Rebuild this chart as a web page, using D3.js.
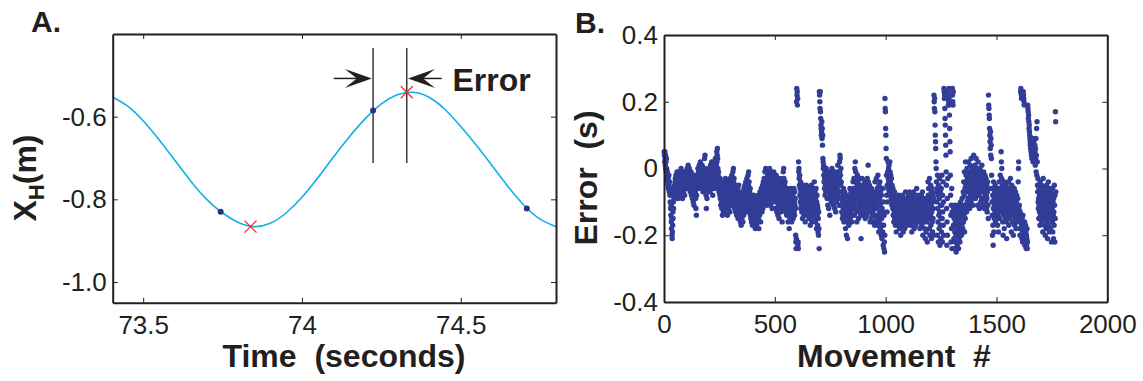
<!DOCTYPE html>
<html>
<head>
<meta charset="utf-8">
<script src="https://cdn.jsdelivr.net/npm/d3@7"></script>
<style>
  body { margin: 0; background: #fff; }
  svg { display: block; font-family: Arial, "Liberation Sans", Helvetica, sans-serif; }
</style>
</head>
<body>
<svg id="fig" width="1143" height="381"></svg>
<script>
// ---- Panel A: hand position trace
const curveTime = [73.40, 73.45, 73.50, 73.55, 73.60, 73.65, 73.70, 73.75, 73.80, 73.85,
  73.90, 73.95, 74.00, 74.05, 74.10, 74.15, 74.20, 74.25, 74.30, 74.35,
  74.40, 74.45, 74.50, 74.55, 74.60, 74.65, 74.70, 74.75, 74.80];
const curveXh = [-0.551, -0.574, -0.610, -0.656, -0.706, -0.756, -0.800, -0.833, -0.856, -0.866,
  -0.858, -0.833, -0.795, -0.748, -0.697, -0.648, -0.604, -0.569, -0.547, -0.541,
  -0.553, -0.582, -0.624, -0.670, -0.720, -0.770, -0.815, -0.848, -0.866];
const sampleTime = [73.744, 74.224, 74.708];   // blue dots
const sampleXh = [-0.830, -0.585, -0.822];
const extremaTime = [73.838, 74.330];           // red crosses
const extremaXh = [-0.866, -0.541];
const timeTicks = [73.5, 74, 74.5];
const xhTicks = [-0.6, -0.8, -1.0];

// ---- Panel B: timing error per movement, in hundredths of a second
const movementErrorCs = [
  5,4,2,5,3,1,4,0,2,-1,3,0,-2,-3,-1,-4,-2,-5,-3,-6,-4,-2,-5,-7,-4,
  -6,-8,-10,-7,-12,-14,-11,-16,-18,-15,-20,-21,-19,-17,-13,-15,-10,-12,-8,-9,-6,-7,-5,-8,-4,
  -3,-6,-4,-2,-7,-5,-3,-8,-1,-4, -6,-2,-9,-5,-3,-4,-7,-1,-6,-3, -5,-8,-2,-4,-6,-3,0,-5,-7,-4,
  -2,-6,-9,-3,-5,-1,-4,-7,-3,-6, -2,-5,-8,-4,-1,-3,-6,-4,-2,-5,
  -4,-1,-3,-6,0,-2,-5,-3,1,-4, -2,-6,-3,0,-5,-1,-4,-7,-2,-3, -5,-1,-4,-8,-2,-6,-3,-9,-4,-7,
  -5,-10,-3,-6,-11,-4,-8,-2,-6,-3, -7,-4,-9,-12,-6,-14,-8,-5,-3,-6,
  -2,-4,0,-3,-5,-1,-6,-2,1,-3, -4,0,-2,2,-5,-1,-3,-6,0,-4, -2,1,-3,-5,-1,-7,-3,0,-4,-2,
  -6,-1,3,-2,4,0,-3,-5,-1,-8, -12,-6,-3,-9,-4,-1,-7,-2,-5,-3,
  -4,-1,-6,-3,0,-5,-2,-7,-3,1, -2,-5,0,-3,2,-1,-4,-6,-2,-8, -3,0,-5,-1,2,-4,-2,1,-6,-3,
  -1,3,-2,0,-4,1,-3,5,2,4, 6,3,0,-2,-5,-1,-4,-7,-3,-6,
  -5,-8,-3,-9,-6,-11,-7,-4,-10,-8, -12,-6,-9,-14,-7,-5,-10,-13,-8,-6, -9,-4,-11,-7,-13,-8,-3,-10,-6,-12,
  -7,-9,-5,-11,-8,-14,-6,-10,-4,-9, -7,-12,-5,-8,-10,-6,-13,-9,-3,-7,
  -6,-9,-4,-11,-7,-2,-8,-5,-10,-3, -1,-6,0,-4,-8,-3,-9,-6,-12,-7, -10,-5,-13,-8,-11,-6,-9,-14,-7,-10,
  -8,-12,-6,-15,-9,-11,-5,-13,-10,-7, -11,-8,-14,-10,-16,-9,-12,-17,-13,-10,
  -15,-11,-8,-13,-9,-16,-12,-7,-14,-10, -6,-11,-9,-13,-5,-10,-8,-12,-4,-9, -13,-7,-11,-3,-9,-6,-12,-8,-2,-10,
  -5,-1,-8,-4,-11,-7,-13,-9,-6,-14, -10,-15,-8,-12,-16,-11,-9,-14,-17,-12,
  -13,-10,-15,-8,-12,-17,-11,-14,-9,-16, -12,-18,-14,-10,-15,-13,-11,-17,-9,-14, -12,-16,-10,-13,-8,-15,-11,-18,-12,-9,
  -14,-11,-7,-13,-10,-16,-8,-12,-6,-11, -9,-13,-7,-10,-5,-12,-8,-4,-11,-6,
  -8,-3,-10,-5,-1,-7,-4,-9,0,-6, -3,-8,-1,-5,-11,-4,-7,-2,-9,-5, -1,-6,-3,-10,-4,0,-7,-2,-8,-5,
  -11,-6,-3,-9,-1,-7,-4,-12,-5,-2, -8,-3,-10,-6,-1,-5,-9,-4,-7,-2,
  -6,-9,-4,-12,-7,-2,-10,-5,-13,-8, -3,-9,-6,-14,-7,-11,-4,-8,-15,-10, -5,-12,-8,-3,-9,-6,-13,-7,-11,-4,
  -10,-6,-16,-9,-12,-5,-8,-1,-7,0, -3,-9,-5,-11,-7,-4,-10,-6,-13,-8,
  -9,-12,-7,-14,-10,-6,-13,-8,-11,-16, -10,-13,-7,-12,-18,-9,-11,-15,-8,-12, -14,-10,-6,-12,-9,-16,-11,-7,-13,-10,
  -8,-12,-15,-9,-11,-6,-13,-10,-14,-7, -11,-9,-12,-20,-22,-24,-21,20,24,22,
  23,19,21,-23,-22,-24,2,-1,0,-3, -5,-2,-8,-6,-10,-4,-12,-7,-9,-11, -8,-13,-6,-10,-15,-9,-7,-12,-5,-11,
  -14,-8,-10,-6,-13,-9,-16,-11,-7,-12, -9,-5,-11,-8,-14,-6,-10,-13,-7,-9,
  -12,-7,-10,-15,-8,-11,-6,-13,-9,-17, -10,-14,-8,-12,-5,-11,-16,-9,-13,-7, -11,-6,-14,-10,-8,-15,-12,-4,-9,-13,
  -7,-11,-16,-9,-13,-6,-12,-18,-10,-8, -14,-11,-17,-12,-19,-15,-20,-13,-18,-24,
  23,22,20,18,23,17,15,13,12,10, 11,14,9,12,7,10,3,2,0,1, -2,-4,0,-6,-3,-1,-8,-5,-2,-7,
  -4,0,-3,-6,-1,-9,-5,-2,-11,-4, -7,-3,-12,-6,-1,-9,-4,-14,-2,-6,
  -3,-8,-1,-5,-10,-3,-6,0,-4,-9, -2,-7,-4,-11,-5,-1,-8,-3,-6,-12, -4,-9,-2,-6,-13,-5,-7,-3,-10,-1,
  -6,-3,-8,1,-5,-2,-9,-4,-7,-11, -3,2,-1,4,3,-2,-5,0,-7,-4,
  -9,-13,-7,-11,-15,-10,-8,-14,-12,-6, -11,-16,-9,-13,-7,-15,-10,-12,-18,-8, -14,-11,-20,-9,-13,-16,-10,-21,-12,-15,
  -8,-13,-11,-17,-9,-14,-10,-12,-6,-15, -11,-9,-13,-7,-12,-10,-16,-8,-14,-11,
  -7,-10,-4,-12,-6,-9,-3,-11,-14,-8, 0,-3,2,-6,-1,-9,-4,-13,-7,-16, -5,-10,-2,-8,-12,-4,-7,-15,-9,-3,
  -6,-11,-8,-13,-5,-10,-7,-14,-21,-9, -12,-6,-10,-3,-8,-14,-5,-11,-7,-9,
  -10,-6,-13,-8,-11,-4,-9,-15,-7,-12, -5,-10,-8,-14,-6,-11,-3,-9,-12,-7, 1,-4,-8,-6,-10,-13,-5,-9,-11,-16,
  -8,-12,-7,-15,-10,-6,-13,-9,-11,-14, -9,-13,-7,-16,-11,-8,-14,-10,-12,-17,
  -11,-4,-14,-8,-16,-7,-12,-3,-9,-15, -12,-6,-17,-10,-2,-15,-8,-14,-19,-5, -16,-9,-13,-4,-11,-18,-7,-14,-10,-20,
  -8,-15,-21,-12,-17,-6,-19,-13,-23,-10, -17,-24,-14,-22,-25,-20,21,18,17,12,
  10,6,3,-2,-8,-13,-5,-10,-1,-6, 2,-3,0,-4,1,-7,-2,-5,2,-1, -4,-8,-2,-6,-9,-3,-7,-11,-5,-10,
  -8,-12,-6,-14,-9,-11,-16,-10,-13,-7, -15,-12,-9,-17,-11,-14,-8,-19,-13,-10,
  -12,-15,-9,-13,-17,-11,-14,-8,-16,-12, -10,-14,-18,-12,-15,-9,-13,-20,-11,-16, -13,-10,-15,-12,-17,-8,-14,-11,-19,-13,
  -16,-11,-14,-9,-12,-18,-13,-10,-15,-7, -12,-16,-10,-14,-13,-17,-11,-15,-9,-13,
  -11,-14,-8,-12,-16,-10,-13,-7,-15,-11, -9,-13,-17,-11,-14,-8,-12,-19,-10,-15, -12,-9,-14,-11,-16,-7,-13,-10,-18,-12,
  -15,-10,-13,-8,-11,-17,-12,-9,-14,-6, -11,-15,-9,-13,-12,-16,-10,-14,-8,-12,
  -13,-10,-15,-12,-18,-11,-14,-9,-16,-12, -8,-13,-17,-11,-14,-7,-12,-20,-10,-15, -12,-9,-16,-13,-11,-18,-14,-10,-21,-12,
  -15,-11,-19,-13,-9,-16,-12,-22,-14,-10, -4,-8,-12,-6,-15,-10,-18,-3,-13,-20,
  -9,-14,-5,-17,-11,-7,-21,-13,-6,-16, -10,-19,-8,-15,-12,-20,-9,22,20,18, 21,17,13,10,8,6,2,0,-4,-7,
  -10,-6,-20,-2,-12,-16,-8,-22,-5,-14, -18,-9,-3,-13,-23,-7,-17,-11,-21,-15,
  -6,-19,-11,-2,-15,-22,-8,-13,-4,-17, -10,-20,24,23,21,22,18,15,13,10, 7,4,-1,-5,-12,-23,-16,-9,-20,-3,
  22,23,19,20,24,21,19,16,12,8, 5,-2,-8,-14,-22,-11,-18,-6,-24,-13,
  24,22,20,19,23,-17,-12,-21,-15,-24, -14,-19,-11,-22,-16,-13,-20,-25,-17,-12, -18,-15,-23,-13,-20,-16,-11,-19,-24,-14,
  -21,-17,-12,-15,-22,-18,-13,-10,-19,-16, -14,-20,-11,-17,-9,-15,-12,-18,-13,-7,
  -16,-4,-14,-8,-1,-19,-11,-6,-15,2, -5,-12,-2,-7,-13,-4,0,-10,-3,-6, -1,-9,-5,2,-11,-7,-2,-4,-12,-6,
  1,-8,-4,-2,-10,3,-1,-6,-3,-9, -7,0,-4,-11,-2,-5,4,-1,-8,-3,
  -2,-6,1,-4,-9,-1,-5,3,-3,-8, -4,0,-7,-2,-11,-5,2,-3,-6,-1, -8,-3,-12,-5,0,-7,-2,-4,-10,-1,
  -6,-3,-9,1,-4,-7,-2,-5,-11,-3, -7,-1,-5,-9,-3,-12,-6,-2,-8,-4,
  -6,-10,-3,-8,-12,-5,-9,-13,-7,-4, -11,-6,-15,22,19,18,16,15,12,10, 8,6,11,4,9,7,3,-2,-6,-10,
  -14,-20,-8,-17,-23,-12,-4,-19,-9,-15, -11,-7,-13,-5,-10,-16,-8,-12,-6,-14,
  -9,-13,-6,-11,-17,-8,-14,-10,-19,-7, -12,-4,-9,-15,-6,-11,-2,-8,-13,-10, 5,2,-3,0,-7,-12,-5,-16,-9,-20,
  -11,-6,-14,-8,-18,-10,-4,-13,-7,-15, -9,-12,-5,-16,-10,-21,-8,-13,-6,-11,
  -14,-8,-12,-4,-10,-17,-7,-13,-9,-15, -6,-11,-3,-9,-14,-8,-19,-10,-5,-12, -16,-9,-13,-7,-11,-20,-8,-14,-10,-6,
  -12,-17,-9,-15,-11,-7,-13,-18,-10,-14, -8,-12,-16,-11,-14,-9,-13,-4,0,2,
  -12,-15,-11,-18,-14,-20,-13,-16,23,24, 23,22,21,-17,-21,-15,-19,-22,-14,-18, 23,22,21,20,19,-20,-16,-23,-18,-21,
  -17,-22,-19,-24,-20,-23,-21,-18,-24,-22, 19,18,17,15,16,14,12,13,11,10,
  9,8,7,6,8,5,7,4,6,3, 8,5,9,6,2,7,4,8,5,3, 6,4,7,5,1,6,3,9,-1,4,
  12,-2,14,2,-5,-7,-3,-10,-12,-9, -15,-6,-11,-13,-8,-17,-4,-10,-14,-12,
  -9,-13,-5,-16,-11,-7,-14,-10,-19,-12, -3,-8,-15,-11,-6,-13,-17,-9,-12,-20, -10,-14,-7,-18,-11,-5,-13,-16,-9,-21,
  -12,-8,-15,-4,-11,-17,-13,-6,-19,-10, -14,-9,-12,-18,-7,-15,-11,-22,-13,-8,
  -12,-16,-6,-19,-10,-14,-21,-9,-13,-17,-5,-11,-22,-8,-15,17,14,-7
];
const movementTicks = [0, 500, 1000, 1500, 2000];
const errorTicks = [0.4, 0.2, 0, -0.2, -0.4];

const ink = "#231f20";
const svg = d3.select("#fig");

// MATLAB style box: inward ticks on all four sides, labels bottom/left only
function drawBox(g, x, y, xTicks, yTicks, fmtX, fmtY) {
  const [left, right] = x.range();
  const [bottom, top] = y.range();
  g.append("g").attr("transform", `translate(0,${bottom})`)
    .call(d3.axisBottom(x).tickValues(xTicks).tickSizeInner(-5).tickSizeOuter(0).tickPadding(13).tickFormat(fmtX));
  g.append("g").attr("transform", `translate(0,${top})`)
    .call(d3.axisTop(x).tickValues(xTicks).tickSizeInner(-5).tickSizeOuter(0).tickFormat(""));
  g.append("g").attr("transform", `translate(${left},0)`)
    .call(d3.axisLeft(y).tickValues(yTicks).tickSizeInner(-5).tickSizeOuter(0).tickPadding(6).tickFormat(fmtY));
  g.append("g").attr("transform", `translate(${right},0)`)
    .call(d3.axisRight(y).tickValues(yTicks).tickSizeInner(-5).tickSizeOuter(0).tickFormat(""));
  g.selectAll(".domain").attr("stroke", ink).attr("stroke-width", 2);
  g.selectAll(".tick line").attr("stroke", ink).attr("stroke-width", 1);
  g.selectAll(".tick text").attr("font-size", 26).attr("fill", ink).attr("font-family", null);
}

// ================= Panel A =================
const xA = d3.scaleLinear().domain([73.404, 74.80]).range([112.7, 556]);
const yA = d3.scaleLinear().domain([-1.05, -0.4]).range([302.7, 34]);
const gA = svg.append("g");

svg.append("defs").append("clipPath").attr("id", "clipA")
  .append("rect").attr("x", 112.7).attr("y", 34).attr("width", 556 - 112.7).attr("height", 302.7 - 34);

gA.append("path")
  .datum(d3.zip(curveTime, curveXh))
  .attr("clip-path", "url(#clipA)")
  .attr("fill", "none")
  .attr("stroke", "#14aee8")
  .attr("stroke-width", 1.6)
  .attr("d", d3.line().x(d => xA(d[0])).y(d => yA(d[1])).curve(d3.curveNatural));

// vertical markers through sample and peak
const markTimes = [sampleTime[1], extremaTime[1]];
gA.selectAll("line.mark")
  .data(markTimes)
  .join("line")
  .attr("class", "mark")
  .attr("x1", d => xA(d)).attr("x2", d => xA(d))
  .attr("y1", yA(-0.434)).attr("y2", yA(-0.712))
  .attr("stroke", "#3a3a3a").attr("stroke-width", 1.5);

// arrows pointing at the two markers
function arrow(tailT, tipT, yv) {
  const x0 = xA(tailT), x1 = xA(tipT), yy = yA(yv);
  const dir = Math.sign(x1 - x0);
  gA.append("line")
    .attr("x1", x0).attr("x2", x1 - dir * 14)
    .attr("y1", yy).attr("y2", yy)
    .attr("stroke", ink).attr("stroke-width", 1.5);
  gA.append("path")
    .attr("d", `M${x1},${yy} L${x1 - dir * 27},${yy - 9.5} L${x1 - dir * 15},${yy} L${x1 - dir * 27},${yy + 9.5} Z`)
    .attr("fill", ink);
}
arrow(74.10, markTimes[0] - 0.004, -0.5075);
arrow(74.44, markTimes[1] + 0.004, -0.5075);

gA.append("text")
  .attr("x", xA(74.474)).attr("y", yA(-0.537))
  .attr("font-size", 32).attr("font-weight", "bold").attr("fill", ink)
  .text("Error");

gA.selectAll("circle.sample")
  .data(d3.zip(sampleTime, sampleXh))
  .join("circle")
  .attr("class", "sample")
  .attr("cx", d => xA(d[0])).attr("cy", d => yA(d[1]))
  .attr("r", 3).attr("fill", "#25318a");

const cross = 6;
gA.selectAll("path.extrema")
  .data(d3.zip(extremaTime, extremaXh))
  .join("path")
  .attr("class", "extrema")
  .attr("d", d => {
    const cx = xA(d[0]), cy = yA(d[1]);
    return `M${cx - cross},${cy - cross}L${cx + cross},${cy + cross}M${cx - cross},${cy + cross}L${cx + cross},${cy - cross}`;
  })
  .attr("stroke", "#ee2a2e").attr("stroke-width", 1.2).attr("fill", "none");

drawBox(gA, xA, yA, timeTicks, xhTicks, d => String(d), d => d.toFixed(1));

gA.append("text")
  .attr("x", 344).attr("y", 367)
  .attr("text-anchor", "middle").attr("font-size", 32).attr("font-weight", "bold").attr("fill", ink)
  .style("white-space", "pre")
  .text("Time  (seconds)");

const yLabA = gA.append("text")
  .attr("transform", "translate(36,178) rotate(-90)")
  .attr("text-anchor", "middle").attr("font-size", 32).attr("font-weight", "bold").attr("fill", ink);
yLabA.append("tspan").text("X");
yLabA.append("tspan").attr("font-size", 22).attr("dy", 8).text("H");
yLabA.append("tspan").attr("dy", -8).text("(m)");

svg.append("text").attr("x", 31).attr("y", 32)
  .attr("font-size", 30).attr("font-weight", "bold").attr("fill", ink).text("A.");

// ================= Panel B =================
const xB = d3.scaleLinear().domain([0, 2000]).range([664, 1107.3]);
const yB = d3.scaleLinear().domain([-0.4, 0.4]).range([302, 35]);
const gB = svg.append("g");

gB.append("g")
  .selectAll("circle")
  .data(movementErrorCs)
  .join("circle")
  .attr("cx", (d, i) => xB(i + 1))
  .attr("cy", d => yB(d / 100))
  .attr("r", 2.7)
  .attr("fill", "#323d97");

drawBox(gB, xB, yB, movementTicks, errorTicks, d => String(d), d => (d === 0 ? "0" : d.toFixed(1)));

gB.append("text")
  .attr("x", 894).attr("y", 367)
  .attr("text-anchor", "middle").attr("font-size", 32).attr("font-weight", "bold").attr("fill", ink)
  .style("white-space", "pre")
  .text("Movement  #");

gB.append("text")
  .attr("transform", "translate(597,178) rotate(-90)")
  .attr("text-anchor", "middle").attr("font-size", 32).attr("font-weight", "bold").attr("fill", ink)
  .style("white-space", "pre")
  .text("Error  (s)");

svg.append("text").attr("x", 575).attr("y", 33)
  .attr("font-size", 30).attr("font-weight", "bold").attr("fill", ink).text("B.");
</script>
</body>
</html>
